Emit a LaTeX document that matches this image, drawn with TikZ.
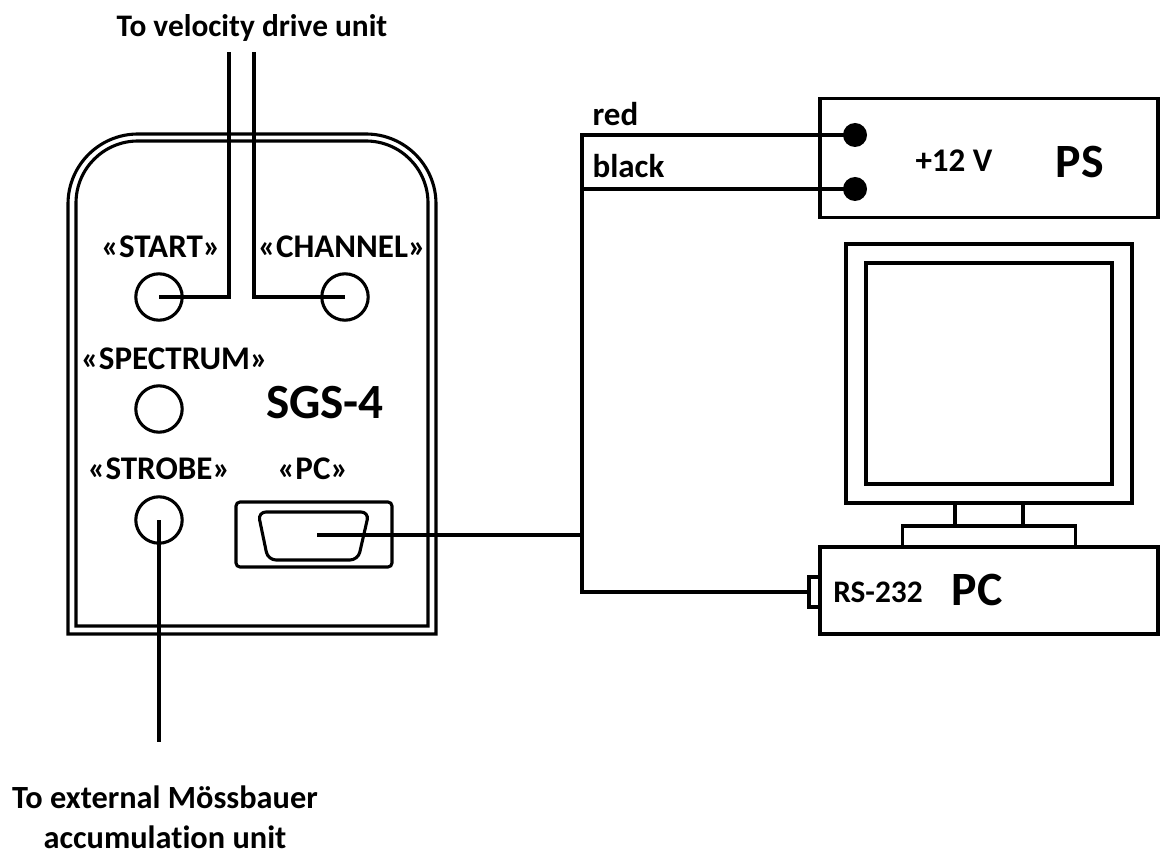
\documentclass[tikz,border=0pt]{standalone}
\usepackage{fontspec}
\setmainfont[Ligatures=CommonOff]{Carlito}
\usetikzlibrary{positioning}

\begin{document}
\begin{tikzpicture}[x=0.25mm,y=-0.25mm,line width=2.2pt,
        box/.style={draw, rectangle, outer sep=0pt, inner sep=0pt},
        jack/.style={draw, circle, outer sep=0pt, inner sep=0pt, minimum size=11.6mm},
        pin/.style={circle, fill=black, outer sep=0pt, inner sep=0pt, minimum size=6mm},
        lbl/.style={font=\fontsize{23.5}{28}\bfseries\selectfont, inner sep=0pt},
        note/.style={font=\fontsize{22.3}{28.5}\bfseries\selectfont, inner sep=0pt, align=center},
        big/.style={font=\fontsize{34}{40}\bfseries\selectfont, inner sep=0pt}]
        \useasboundingbox (0,0) rectangle (1160,854);
        \draw (68,634) [rounded corners=17.5mm] -- (68,134) -- (436,134) [sharp corners] -- (436,634) -- cycle;
        \draw (76,626) [rounded corners=15.5mm] -- (76,141) -- (428,141) [sharp corners] -- (428,626) -- cycle;

        \node[jack] (start) at (159,297) {};
        \node[jack] (chan) at (345,297) {};
        \node[jack] (spec) at (159,409) {};
        \node[jack] (strobe) at (159,520) {};
        \node[box, rounded corners=1mm, minimum width=39mm, minimum height=16.25mm] (panel) at (314,534.5) {};
        \draw[rounded corners=2mm] (258,512) -- (369,512) -- (358,560) -- (268,560) -- cycle;

        \node[lbl] (tstart) at (161,247) {«START»};
        \node[lbl] (tchan) at (342,247) {«CHANNEL»};
        \node[lbl] (tspec) at (174.5,359) {«SPECTRUM»};
        \node[lbl] (tstrobe) at (159,469) {«STROBE»};
        \node[lbl] (tpanel) at (313,469) {«PC»};
        \node[big, font=\fontsize{35}{40}\bfseries\selectfont] (tsgs) at (325,403) {SGS-4};
        \node[note] (tvel) at (252,28) {To velocity drive unit};
        \node[note, font=\fontsize{23}{28.5}\bfseries\selectfont] (text) at (165,817) {To external Mössbauer\\accumulation unit};

        \node[box, minimum width=84.5mm, minimum height=29.6mm] (ps) at (989,158) {};
        \node[pin] (pinred) at (855,135) {};
        \node[pin] (pinblack) at (855,189) {};
        \node[lbl] (tvolt) at (954,161) {+12 V};
        \node[big] (tps) at (1080,162) {PS};

        \node[box, minimum width=84.5mm, minimum height=21.75mm] (pc) at (989,590.5) {};
        \node[box, above = 0mm of pc, minimum width=43.25mm, minimum height=5.25mm] (base) {};
        \node[box, above = 0mm of base, minimum width=17mm, minimum height=5.75mm] (neck) {};
        \node[box, above = 0mm of neck, minimum width=71.5mm, minimum height=64.75mm] (mon) {};
        \node[box, minimum width=61.5mm, minimum height=55.25mm] (screen) at (mon) {};
        \node[box, minimum width=2.75mm, minimum height=7.5mm] (port) at (814.5,592) {};
        \node[note] (trs) at (878,592) {RS-232};
        \node[big] (tpc) at (977,590) {PC};

        \node[lbl, anchor=base west] (tred) at (591,126) {red};
        \node[lbl, anchor=base west] (tblack) at (591,178) {black};

        \coordinate (vel1) at (229,52);
        \coordinate (vel2) at (254,52);
        \coordinate (ext) at (159,742);
        \coordinate (dsub) at (317,535);
        \coordinate (bend) at (582,135);

        \draw (start.center) -| (vel1);
        \draw (chan.center) -| (vel2);
        \draw (strobe.center) -- (ext);
        \draw (dsub) -- (dsub -| bend);
        \draw (pinred.center) -- (bend) |- (port.west);
        \draw (pinblack.center) -- (pinblack -| bend);
        \end{tikzpicture}
\end{document}
